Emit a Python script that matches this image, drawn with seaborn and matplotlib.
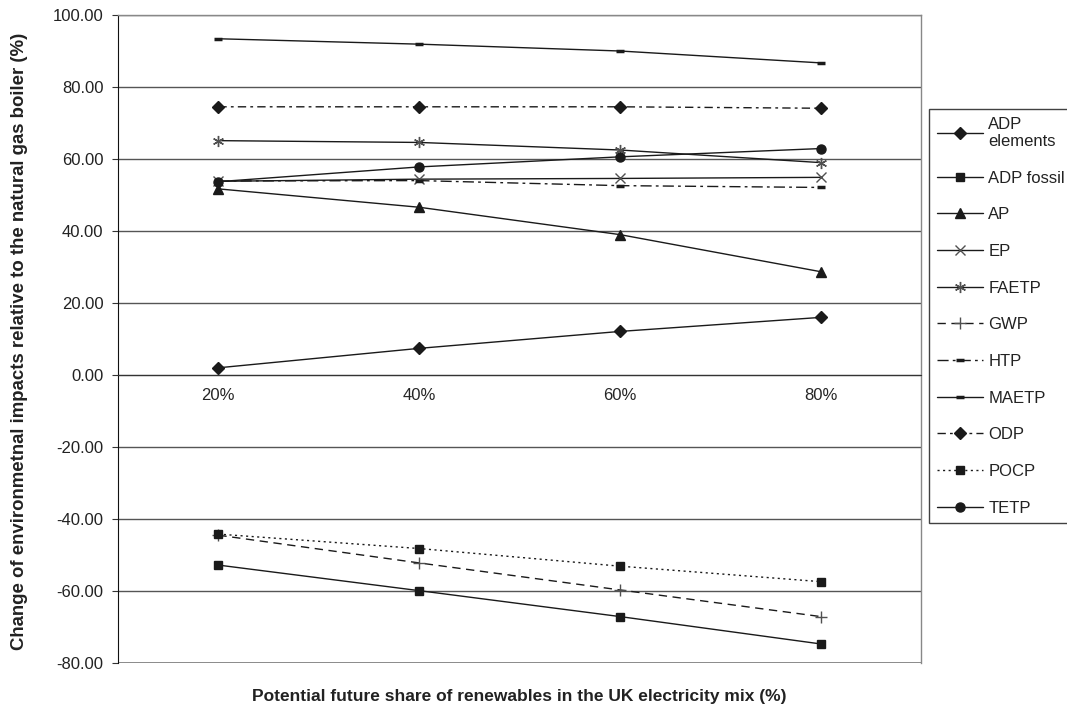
import numpy as np
import pandas as pd
import matplotlib
matplotlib.use("Agg")
import matplotlib.pyplot as plt
import seaborn as sns

shares = ["20%", "40%", "60%", "80%"]

adp_elements = [2.0, 7.4, 12.1, 16.0]
adp_fossil = [-52.8, -59.9, -67.1, -74.7]
ap = [51.7, 46.6, 39.0, 28.7]
ep = [53.8, 54.4, 54.6, 54.9]
faetp = [65.1, 64.6, 62.5, 59.0]
gwp = [-44.5, -52.2, -59.7, -67.1]
htp = [53.9, 54.0, 52.6, 52.1]
maetp = [93.4, 91.9, 90.0, 86.7]
odp = [74.5, 74.5, 74.5, 74.1]
pocp = [-44.2, -48.2, -53.1, -57.4]
tetp = [53.7, 57.8, 60.6, 62.9]

series_names = ["ADP elements", "ADP fossil", "AP", "EP", "FAETP", "GWP",
                "HTP", "MAETP", "ODP", "POCP", "TETP"]
series_values = [adp_elements, adp_fossil, ap, ep, faetp, gwp,
                 htp, maetp, odp, pocp, tetp]

y_ticks = [-80, -60, -40, -20, 0, 20, 40, 60, 80, 100]

rows = []
for name, vals in zip(series_names, series_values):
    for i, (s, v) in enumerate(zip(shares, vals)):
        rows.append({"impact": name, "pos": i, "share": s, "value": v})
df = pd.DataFrame(rows)

INK = "#1a1a1a"
GREY_INK = "#505050"

# marker / line style for each impact category
styles = {
    "ADP elements": dict(marker="D", ls="-", ms=6),
    "ADP fossil": dict(marker="s", ls="-", ms=6),
    "AP": dict(marker="^", ls="-", ms=7),
    "EP": dict(marker="x", ls="-", ms=7, mec=GREY_INK, mew=1.0),
    "FAETP": dict(marker=(6, 2, 0), ls="-", ms=8, mec=GREY_INK, mew=1.0),
    "GWP": dict(marker="+", ls=(0, (6, 4)), ms=8, mec=GREY_INK, mew=1.0),
    "HTP": dict(marker="_", ls=(0, (8, 3, 2, 3)), ms=6, mew=2.5),
    "MAETP": dict(marker="_", ls="-", ms=6, mew=2.5),
    "ODP": dict(marker="D", ls=(0, (6, 3, 2, 3)), ms=6),
    "POCP": dict(marker="s", ls=(0, (1.5, 2.5)), ms=6),
    "TETP": dict(marker="o", ls="-", ms=6.5),
}

sns.set_style("white")
plt.rcParams["font.family"] = ["Liberation Sans", "DejaVu Sans"]
plt.rcParams["font.size"] = 12

fig = plt.figure(figsize=(10.67, 7.14), dpi=100)
ax = fig.add_axes([118 / 1067, 1 - 663 / 714, (921 - 118) / 1067, (663 - 15) / 714])

for name in series_names:
    st = styles[name]
    sub = df[df["impact"] == name]
    sns.lineplot(data=sub, x="pos", y="value", ax=ax, color=INK,
                 linestyle=st["ls"], linewidth=1.0, marker=st["marker"],
                 markersize=st["ms"], markeredgecolor=st.get("mec", INK),
                 markerfacecolor=INK, markeredgewidth=st.get("mew", 1.0),
                 label=name.replace("ADP elements", "ADP\nelements"),
                 estimator=None, sort=False)

ax.set_xlim(-0.5, 3.5)
ax.set_ylim(-80, 100)
ax.set_yticks(y_ticks)
ax.set_yticklabels([f"{v:.2f}" for v in y_ticks], fontsize=12, color="#222222")
ax.yaxis.grid(True, color="#555555", linewidth=1.0)
ax.set_axisbelow(True)

ax.set_xticks(range(len(shares)))
ax.set_xticklabels(shares, fontsize=12, color="#222222")
ax.set_xticks([0.5, 1.5, 2.5], minor=True)
ax.tick_params(axis="x", which="major", length=0, pad=9)
ax.tick_params(axis="x", which="minor", length=4.5, direction="out", color="#333333")
ax.tick_params(axis="y", which="major", length=4.5, direction="out", left=True,
               color="#333333", pad=6)

ax.spines["bottom"].set_position(("data", 0))
ax.spines["bottom"].set_color("#333333")
ax.spines["left"].set_color("#111111")
for side in ("top", "right"):
    ax.spines[side].set_color("#888888")
    ax.spines[side].set_linewidth(1.0)
ax.axhline(-80, color="#888888", linewidth=1.2, zorder=0)

ax.set_xlabel("")
ax.set_ylabel("")
fig.text(20 / 1067, 1 - 341 / 714,
         "Change of environmetnal impacts relative to the natural gas boiler (%)",
         rotation=90, ha="center", va="center", fontsize=13.4, fontweight="bold",
         color="#222222")
fig.text(519 / 1067, 1 - 697 / 714,
         "Potential future share of renewables in the UK electricity mix (%)",
         ha="center", va="center", fontsize=12.5, fontweight="bold", color="#222222")

handles, labels = ax.get_legend_handles_labels()
if ax.legend_ is not None:
    ax.legend_.remove()
leg = fig.legend(handles, labels, loc="upper left",
                 bbox_to_anchor=(929 / 1067, 1 - 109 / 714),
                 frameon=True, fancybox=False, fontsize=12, handlelength=2.8,
                 handletextpad=0.3, labelspacing=1.3, borderpad=0.45,
                 borderaxespad=0)
leg.get_frame().set_edgecolor("#111111")
leg.get_frame().set_linewidth(1.0)
for t in leg.get_texts():
    t.set_color("#222222")

fig.savefig("out.png", dpi=100)
